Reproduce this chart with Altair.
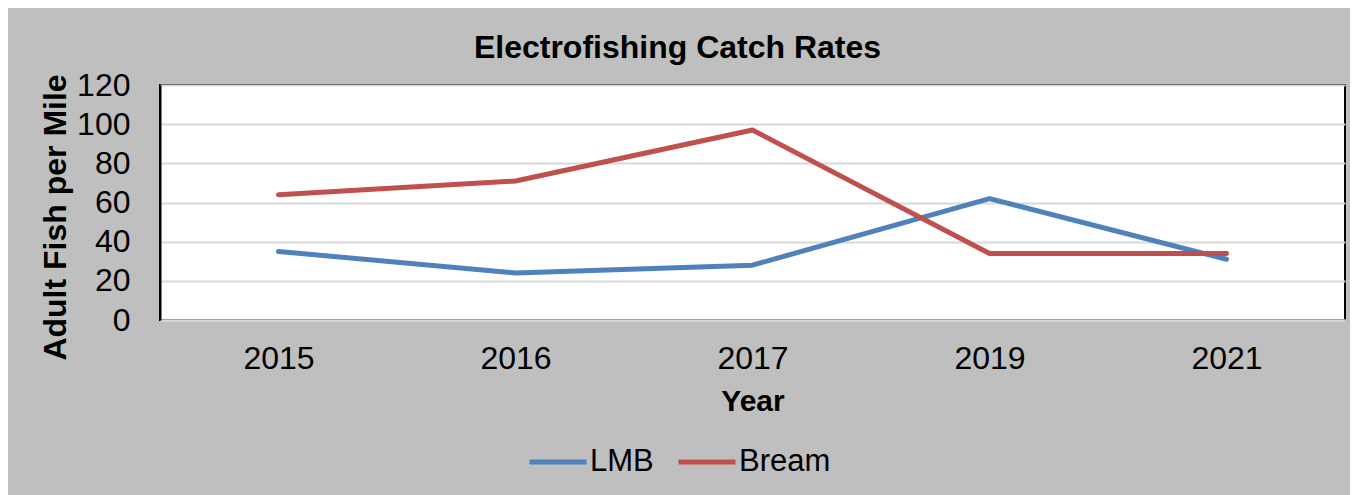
import altair as alt
import pandas as pd

years = ["2015", "2016", "2017", "2019", "2021"]
lmb = [35, 24, 28, 62, 31]
bream = [64, 71, 97, 34, 34]
series_names = ["LMB", "Bream"]
series_colors = ["#4F81BD", "#C0504D"]
y_ticks = [0, 20, 40, 60, 80, 100, 120]

rows = []
for name, vals in zip(series_names, [lmb, bream]):
    for yr, v in zip(years, vals):
        rows.append({"Year": yr, "Series": name, "Value": v})
df = pd.DataFrame(rows)

FONT = "Liberation Sans"
W, H = 1185, 235

base = alt.Chart(df).encode(
    x=alt.X("Year:O", sort=years, scale=alt.Scale(paddingOuter=0.5, paddingInner=0),
            axis=alt.Axis(title="Year", labelAngle=0, ticks=False, tickSize=0,
                          labelFontSize=32, labelFont=FONT, labelColor="black",
                          labelBaseline="alphabetic", labelPadding=48,
                          titleFontSize=30, titleFont=FONT, titleFontWeight="bold",
                          titleColor="black", titleBaseline="alphabetic",
                          titleY=90, titleX=W / 2,
                          domainColor="#D9D9D9", domainWidth=2, grid=False)),
    y=alt.Y("Value:Q", scale=alt.Scale(domain=[0, 120], nice=False),
            axis=alt.Axis(title="Adult Fish per Mile", values=y_ticks, ticks=False, tickSize=0,
                          labelFontSize=32, labelFont=FONT, labelColor="black",
                          labelPadding=30, labelBaseline="middle",
                          titleFontSize=32, titleFont=FONT, titleFontWeight="bold",
                          titleColor="black", titleAngle=270, titleX=-105, titleY=132,
                          titleAlign="center", titleBaseline="middle",
                          domainColor="black", domainWidth=2,
                          gridColor="#D9D9D9", gridWidth=2)),
    color=alt.Color("Series:N", scale=alt.Scale(domain=series_names, range=series_colors),
                    sort=series_names,
                    legend=alt.Legend(title=None, orient="none", direction="horizontal",
                                      legendX=367, legendY=346, padding=0,
                                      symbolType="stroke", symbolSize=3249,
                                      symbolStrokeWidth=5, labelFontSize=31,
                                      labelFont=FONT, labelColor="black", labelOffset=1,
                                      columnPadding=14, labelLimit=400)),
)

line_lmb = base.transform_filter(alt.datum.Series == "LMB").mark_line(
    strokeWidth=5, strokeCap="round", strokeJoin="round")
line_bream = base.transform_filter(alt.datum.Series == "Bream").mark_line(
    strokeWidth=5, strokeCap="round", strokeJoin="round")

chart = alt.layer(line_lmb, line_bream).properties(
    width=W, height=H,
    title=alt.Title("Electrofishing Catch Rates", fontSize=32, font=FONT, fontWeight="bold",
                    color="black", anchor="middle", dx=-75, offset=-21, baseline="alphabetic"),
    autosize=alt.AutoSizeParams(type="none"),
    padding={"left": 152, "top": 77, "right": 5, "bottom": 175},
    background="#BFBFBF",
).configure_view(stroke="black", strokeWidth=2, fill="white")

chart.save("out.html", embed_options={"renderer": "svg", "actions": False})
